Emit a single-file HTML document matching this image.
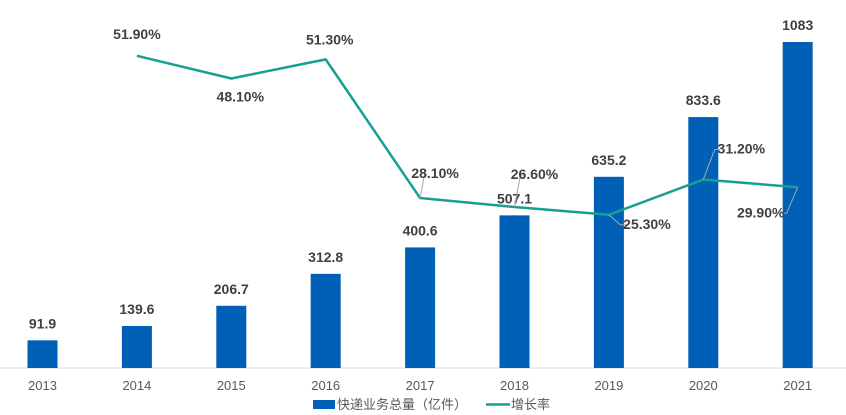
<!DOCTYPE html>
<html><head><meta charset="utf-8">
<style>
body{margin:0;background:#fff;}
svg{display:block;font-family:"Liberation Sans","Noto Sans CJK SC",sans-serif;}
</style></head>
<body>
<svg id="chart" width="846" height="415" viewBox="0 0 846 415"></svg>
<script>
const years=["2013","2014","2015","2016","2017","2018","2019","2020","2021"];
const volume=[91.9,139.6,206.7,312.8,400.6,507.1,635.2,833.6,1083];
const volumeLabels=["91.9","139.6","206.7","312.8","400.6","507.1","635.2","833.6","1083"];
const growth=[null,51.9,48.1,51.3,28.1,26.6,25.3,31.2,29.9];
const growthLabels=["","51.90%","48.10%","51.30%","28.10%","26.60%","25.30%","31.20%","29.90%"];
// label offsets (layout only)
const gOff=[null,[0,-17],[9,23],[4,-15],[15,-20],[20,-28],[38,14],[38,-26],[-37,30]];
const svg=document.getElementById('chart');
const NS='http://www.w3.org/2000/svg';
function mk(t,a,p){const e=document.createElementNS(NS,t);for(const k in a)e.setAttribute(k,a[k]);(p||svg).appendChild(e);return e;}
const x0=42.5,step=94.4,base=368;
const xS=i=>x0+i*step;
const yBar=v=>base-v*(326/1083);
const yLine=v=>366-v*5.977;
const axis=mk('line',{x1:0,x2:846,y1:base,y2:base,stroke:'#d9d9d9','stroke-width':1});


years.forEach((y,i)=>{
  const r=mk('rect',{x:xS(i)-15,y:yBar(volume[i]),width:30,height:base-yBar(volume[i]),fill:'#0060b6'});
  
  
  const t=mk('text',{x:xS(i),y:yBar(volume[i])-12,'text-anchor':'middle','font-size':14,'font-weight':'bold',fill:'#404040'});
  t.textContent=volumeLabels[i];
  
  
  const xl=mk('text',{x:xS(i),y:390,'text-anchor':'middle','font-size':13,fill:'#595959'});
  xl.textContent=y;
  
  
});
let pts=[];
growth.forEach((g,i)=>{if(g!==null)pts.push(xS(i)+','+yLine(g));});
const pl=mk('polyline',{points:pts.join(' '),fill:'none',stroke:'#16a092','stroke-width':2.5,'stroke-linejoin':'round'});


growth.forEach((g,i)=>{
  if(g===null)return;
  const px=xS(i),py=yLine(g),o=gOff[i];
  const lx=px+o[0],ly=py+o[1];
  if(Math.abs(o[0])>12){
    const ld=mk('polyline',{points:`${px},${py} ${px+o[0]*0.3},${ly-4} ${px+o[0]*0.45},${ly-4}`,fill:'none',stroke:'#a6a6a6','stroke-width':1});
    
    
  }
  const t=mk('text',{x:lx,y:ly,'text-anchor':'middle','font-size':14,'font-weight':'bold',fill:'#404040'});
  t.textContent=growthLabels[i];
  
  
});
const g=mk('g',{});


const lr=mk('rect',{x:313,y:400,width:22,height:9,fill:'#0060b6'},g);


const lt=mk('text',{x:337,y:409,'font-size':13,fill:'#595959'},g);
lt.textContent='快递业务总量（亿件）';


const ll=mk('line',{x1:486,x2:510,y1:404.5,y2:404.5,stroke:'#16a092','stroke-width':2.5},g);


const lt2=mk('text',{x:511,y:409,'font-size':13,fill:'#595959'},g);
lt2.textContent='增长率';


</script>
</body></html>
